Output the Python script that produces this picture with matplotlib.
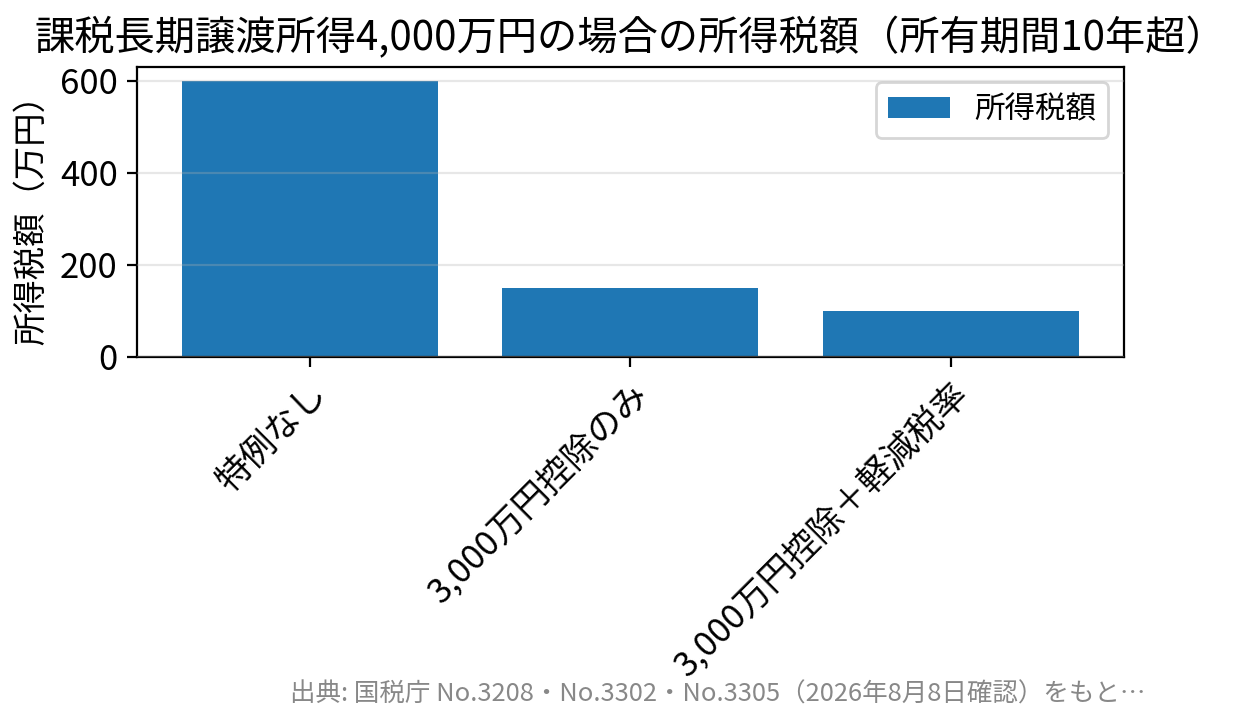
import matplotlib
matplotlib.use('Agg')
import matplotlib.pyplot as plt

plt.rcParams['font.family'] = ['Noto Sans CJK JP', 'DejaVu Sans']

categories = ['特例なし', '3,000万円控除のみ', '3,000万円控除＋軽減税率']
tax_amounts = [600, 150, 100]

title = '課税長期譲渡所得4,000万円の場合の所得税額（所有期間10年超）'
ylabel = '所得税額（万円）'
legend_label = '所得税額'
source_note = '出典: 国税庁 No.3208・No.3302・No.3305（2026年8月8日確認）をもと…'

fig, ax = plt.subplots(figsize=(6.235, 3.625), dpi=200)
fig.subplots_adjust(left=0.11, right=0.901, top=0.9076, bottom=0.5076)

ax.bar(categories, tax_amounts, width=0.8, color='#1f77b4', label=legend_label)
ax.set_title(title, fontsize=14.5)
ax.set_ylabel(ylabel, fontsize=12)
ax.tick_params(axis='both', labelsize=12.5)
ax.set_yticks([0, 200, 400, 600])
plt.setp(ax.get_xticklabels(), rotation=45, ha='right', rotation_mode='anchor')
ax.grid(axis='y', alpha=0.3)
ax.set_axisbelow(False)
ax.legend(loc='upper right', fontsize=11)

fig.text(290 / 1247, 1 - 695 / 725, source_note, fontsize=9.2, color='#888888',
         ha='left', va='center')

fig.savefig('out.png', dpi=200)
